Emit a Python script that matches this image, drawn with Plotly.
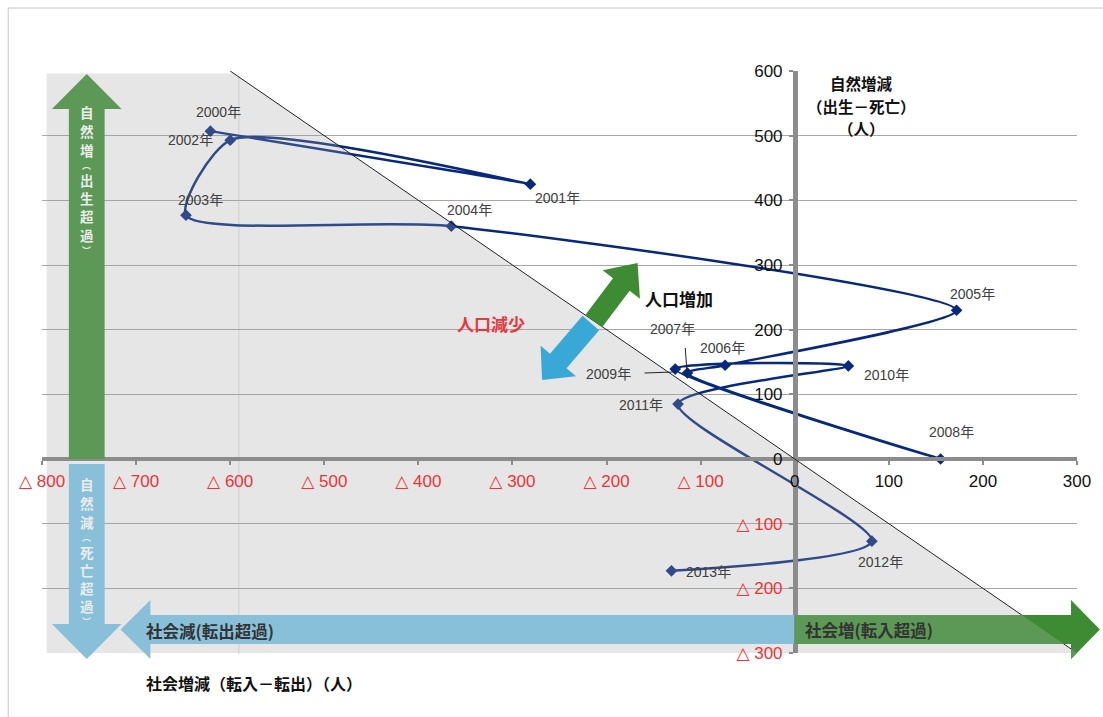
import math
import plotly.graph_objects as go

# ---- values ----
years = ["2000年", "2001年", "2002年", "2003年", "2004年", "2005年", "2006年",
         "2007年", "2008年", "2009年", "2010年", "2011年", "2012年", "2013年"]
social_change = [-621, -281, -600, -647, -365, 172, -74, -114, 155, -127, 57, -124, 82, -131]
natural_change = [507, 425, 493, 377, 360, 230, 145, 133, 0, 139, 144, 85, -127, -173]

x_tick_vals = [-800, -700, -600, -500, -400, -300, -200, -100, 0, 100, 200, 300]
x_tick_labels = ["△ 800", "△ 700", "△ 600", "△ 500", "△ 400", "△ 300", "△ 200", "△ 100",
                 "0", "100", "200", "300"]
y_tick_vals = [-300, -200, -100, 0, 100, 200, 300, 400, 500, 600]
y_tick_labels = ["△ 300", "△ 200", "△ 100", "0", "100", "200", "300", "400", "500", "600"]

# where each year label sits relative to its point (pixels: right, up)
label_dx = [8, 27, -40, 15, 18, 16, -3, -15, 11, -67, 38, -37, 9, 37]
label_dy = [19, -14, 0, 15, 16, 16, 17, 44, 27, -5, -9, -1, -21, -1]

# ---- geometry ----
W, H = 1103, 717
L, R, T, B = 42, 20, 71, 64
PW, PH = W - L - R, H - T - B
X_RANGE = [-800, 300]
Y_RANGE = [-300, 600]

NAVY = "#06287e"
RED = "#ec3535"
GREEN = "#3d8b33"
GREEN_MUTED = "#5c9856"
BLUE = "#38a9d6"
BLUE_MUTED = "#87c0d8"
JP = "Noto Sans CJK JP, Liberation Sans, sans-serif"
LAT = "Liberation Sans, Arial, DejaVu Sans, Noto Sans CJK JP, sans-serif"


def px_x(p):
    return (p - L) / PW


def px_y(p):
    return (H - B - p) / PH


def data_px(x, y):
    return (L + (x - X_RANGE[0]) / (X_RANGE[1] - X_RANGE[0]) * PW,
            T + (Y_RANGE[1] - y) / (Y_RANGE[1] - Y_RANGE[0]) * PH)


def path_from_px(pts):
    return "M " + " L ".join(f"{px_x(x):.5f},{px_y(y):.5f}" for x, y in pts) + " Z"


def block_arrow(sx, sy, tx, ty, shaft, head_w, head_len):
    length = math.hypot(tx - sx, ty - sy)
    ux, uy = (tx - sx) / length, (ty - sy) / length
    nx_, ny_ = -uy, ux
    bx, by = tx - ux * head_len, ty - uy * head_len
    return [
        (sx + nx_ * shaft / 2, sy + ny_ * shaft / 2),
        (bx + nx_ * shaft / 2, by + ny_ * shaft / 2),
        (bx + nx_ * head_w / 2, by + ny_ * head_w / 2),
        (tx, ty),
        (bx - nx_ * head_w / 2, by - ny_ * head_w / 2),
        (bx - nx_ * shaft / 2, by - ny_ * shaft / 2),
        (sx - nx_ * shaft / 2, sy - ny_ * shaft / 2),
    ]


def clip_to_decrease(pts):
    # keep the part of a polygon on the population-decrease side of x + y = 0
    a, b = data_px(-600, 600), data_px(300, -300)

    def side(p):
        return (b[0] - a[0]) * (p[1] - a[1]) - (b[1] - a[1]) * (p[0] - a[0])

    ref = side(data_px(-800, -300))
    out = []
    for i, cur in enumerate(pts):
        prev = pts[i - 1]
        ci, pi = side(cur) * ref > 0, side(prev) * ref > 0
        if ci != pi:
            sp, sc = side(prev), side(cur)
            t = sp / (sp - sc)
            out.append((prev[0] + t * (cur[0] - prev[0]), prev[1] + t * (cur[1] - prev[1])))
        if ci:
            out.append(cur)
    return out


def tick_text(t):
    return f'<span style="color:{RED}">{t}</span>' if t.startswith("△") else t


fig = go.Figure()

# trajectory
fig.add_trace(go.Scatter(
    x=social_change, y=natural_change,
    mode="lines+markers",
    line=dict(color=NAVY, width=2.5, shape="spline", smoothing=0.7),
    marker=dict(symbol="diamond", size=9, color=NAVY),
    text=years, hoverinfo="text+x+y",
))

# translucent grey area: population decrease (social + natural < 0)
fig.add_trace(go.Scatter(
    x=[-795, -596, 300, -795], y=[596, 596, -300, -300],
    fill="toself", fillcolor="rgba(164,164,164,0.275)",
    line=dict(width=0), mode="lines", hoverinfo="skip",
))

shapes = []
# faint vertical guide inside the grey area
shapes.append(dict(type="line", xref="paper", yref="paper", layer="below",
                   x0=px_x(240), x1=px_x(240), y0=px_y(73), y1=px_y(655),
                   line=dict(color="#e4e4e4", width=1.2)))
# break-even line
shapes.append(dict(type="line", xref="x", yref="y", layer="above",
                   x0=-600, y0=600, x1=300, y1=-300,
                   line=dict(color="#222222", width=1)))

arrows = [
    (block_arrow(87, 459, 87, 74, 36, 70, 35), GREEN_MUTED),
    (block_arrow(87, 464, 87, 659, 36, 70, 35), BLUE_MUTED),
    (block_arrow(799, 629.5, 121, 629.5, 29, 59, 30), BLUE_MUTED),
]
social_up = block_arrow(799, 629.5, 1106, 629.5, 29, 59, 29)
arrows.append((social_up, GREEN))
arrows.append((clip_to_decrease(social_up), GREEN_MUTED))
arrows.append((block_arrow(597, 321, 641, 263, 21, 47, 27), GREEN))
arrows.append((block_arrow(594, 323, 545, 380, 22, 47, 25), BLUE))
for pts, col in arrows:
    shapes.append(dict(type="path", xref="paper", yref="paper", layer="above",
                       path=path_from_px(pts), fillcolor=col, line=dict(width=0)))

# leader lines for crowded labels
for (x0, y0, x1, y1) in [(648, 373, 677, 372), (689, 348, 691, 376)]:
    shapes.append(dict(type="line", xref="paper", yref="paper", layer="above",
                       x0=px_x(x0), y0=px_y(y0), x1=px_x(x1), y1=px_y(y1),
                       line=dict(color="#222222", width=1)))

# outer frame
shapes.append(dict(type="rect", xref="paper", yref="paper", layer="above",
                   x0=px_x(8), y0=px_y(8), x1=px_x(1140), y1=px_y(760),
                   line=dict(color="#c4c4c4", width=1), fillcolor="rgba(0,0,0,0)"))

annotations = []
for yr, x, y, dx, dy in zip(years, social_change, natural_change, label_dx, label_dy):
    annotations.append(dict(x=x, y=y, xref="x", yref="y", text=yr, showarrow=False,
                            xshift=dx, yshift=dy,
                            font=dict(family=LAT, size=14, color="#404040")))


def text_at(px, py, text, size, color, family=JP):
    annotations.append(dict(x=px_x(px), y=px_y(py), xref="paper", yref="paper",
                            text=text, showarrow=False, xanchor="center", yanchor="middle",
                            font=dict(family=family, size=size, color=color)))


# vertical captions inside the up/down arrows, one glyph per row
up_rows = [112, 131, 150, 165, 180, 198, 216, 235, 250]
down_rows = [484, 503, 522, 537, 552, 570, 588, 606, 621]
for text, rows in (("自然増︵出生超過︶", up_rows), ("自然減︵死亡超過︶", down_rows)):
    for ch, py in zip(text, rows):
        size = 9 if ch in "︵︶" else 13.5
        text_at(87, py, f"<b>{ch}</b>", size, "#ececec")

text_at(211, 631, "<b>社会減(転出超過)</b>", 16.5, "#333333")
text_at(874, 630, "<b>社会増(転入超過)</b>", 16.5, "#333333")
text_at(683, 298, "<b>人口増加</b>", 17, "#111111")
text_at(494, 323, "<b>人口減少</b>", 17, "#e8383d")
text_at(866, 83, "<b>自然増減</b>", 15.5, "#111111")
text_at(866, 105.5, "<b>（出生－死亡）</b>", 15.5, "#111111")
text_at(866, 128, "<b>（人）</b>", 15.5, "#111111")
text_at(255, 683, "<b>社会増減（転入－転出）（人）</b>", 16, "#111111")

fig.update_layout(
    width=W, height=H,
    margin=dict(l=L, r=R, t=T, b=B),
    paper_bgcolor="white", plot_bgcolor="white",
    showlegend=False,
    shapes=shapes,
    annotations=annotations,
    xaxis=dict(
        range=X_RANGE, anchor="free",
        position=(0 - Y_RANGE[0]) / (Y_RANGE[1] - Y_RANGE[0]),
        tickvals=x_tick_vals, ticktext=[tick_text(t) for t in x_tick_labels],
        showgrid=False, zeroline=False,
        showline=True, linecolor="#8c8c8c", linewidth=4,
        ticks="outside", ticklen=4, tickwidth=2, tickcolor="#8c8c8c",
        ticklabelstandoff=2,
        tickfont=dict(family=LAT, size=17, color="#111111"),
    ),
    yaxis=dict(
        range=Y_RANGE, anchor="free",
        position=(0 - X_RANGE[0]) / (X_RANGE[1] - X_RANGE[0]),
        tickvals=y_tick_vals, ticktext=[tick_text(t) for t in y_tick_labels],
        showgrid=True, gridcolor="#a6a6a6", gridwidth=1.3, zeroline=False,
        showline=True, linecolor="#8c8c8c", linewidth=4.5,
        ticks="outside", ticklen=4, tickwidth=2, tickcolor="#8c8c8c",
        ticklabelstandoff=3,
        tickfont=dict(family=LAT, size=17, color="#111111"),
    ),
)

# the page body keeps its default 8px margin otherwise
fig.write_html("out.html", config={"displayModeBar": False},
               post_script="document.body.style.margin='0px';")
